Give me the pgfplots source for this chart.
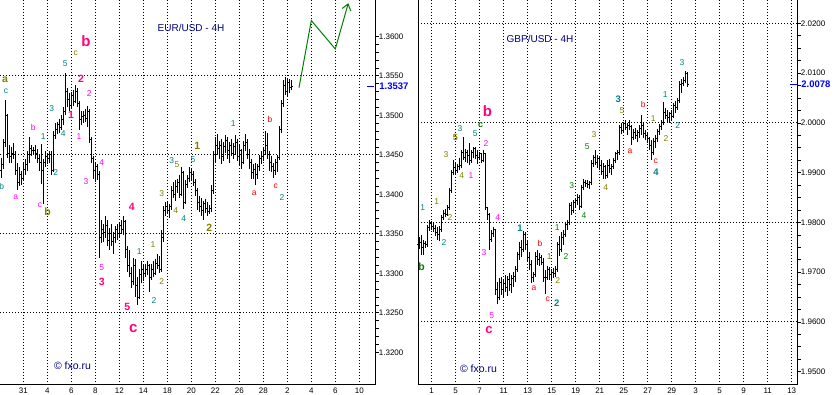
\documentclass[border=0pt]{standalone}
\usepackage{fontspec}
\setmainfont{Liberation Sans}
\usepackage{pgfplots}
\pgfplotsset{compat=1.18}
\usepackage{pgfplotstable}
\usetikzlibrary{arrows.meta}

\definecolor{wteal}{RGB}{0,128,128}
\definecolor{wolive}{RGB}{128,128,0}
\definecolor{wmag}{RGB}{255,0,255}
\definecolor{wpink}{RGB}{255,0,128}
\definecolor{wred}{RGB}{255,0,0}
\definecolor{wgreen}{RGB}{0,128,0}
\definecolor{wnavy}{RGB}{0,0,128}
\definecolor{wblue}{RGB}{0,0,255}

\pgfdeclareplotmark{ctick}{\pgfpathmoveto{\pgfpointorigin}\pgfpathlineto{\pgfpoint{1.6pt}{0pt}}\pgfusepathqstroke}
\pgfdeclareplotmark{otick}{\pgfpathmoveto{\pgfpointorigin}\pgfpathlineto{\pgfpoint{-1.6pt}{0pt}}\pgfusepathqstroke}

\pgfplotstableread{
x o h l c
1 1.3430 1.3446 1.3421 1.3438
3 1.3438 1.3470 1.3432 1.3465
5 1.3465 1.3519 1.3460 1.3500
7 1.3500 1.3502 1.3446 1.3452
9 1.3452 1.3462 1.3440 1.3448
11 1.3448 1.3460 1.3440 1.3452
13 1.3452 1.3465 1.3445 1.3450
15 1.3450 1.3455 1.3425 1.3430
17 1.3430 1.3440 1.3405 1.3415
19 1.3415 1.3435 1.3410 1.3425
21 1.3425 1.3430 1.3412 1.3420
23 1.3420 1.3440 1.3418 1.3432
25 1.3432 1.3445 1.3425 1.3438
27 1.3438 1.3455 1.3430 1.3450
29 1.3450 1.3472 1.3440 1.3458
31 1.3458 1.3462 1.3448 1.3455
33 1.3455 1.3460 1.3450 1.3456
35 1.3456 1.3462 1.3445 1.3452
37 1.3452 1.3458 1.3440 1.3445
39 1.3445 1.3450 1.3430 1.3440
41 1.3440 1.3464 1.3413 1.3430
43 1.3430 1.3445 1.3388 1.3440
45 1.3440 1.3455 1.3435 1.3448
47 1.3448 1.3452 1.3438 1.3445
49 1.3445 1.3455 1.3440 1.3450
51 1.3450 1.3455 1.3425 1.3430
53 1.3430 1.3480 1.3428 1.3475
55 1.3475 1.3490 1.3470 1.3482
57 1.3482 1.3492 1.3476 1.3488
59 1.3488 1.3495 1.3478 1.3485
61 1.3485 1.3500 1.3482 1.3495
63 1.3495 1.3510 1.3488 1.3505
65 1.3505 1.3553 1.3500 1.3530
67 1.3530 1.3535 1.3510 1.3520
69 1.3520 1.3528 1.3506 1.3512
71 1.3512 1.3530 1.3508 1.3525
73 1.3525 1.3532 1.3512 1.3518
75 1.3518 1.3538 1.3515 1.3530
77 1.3530 1.3535 1.3510 1.3515
79 1.3515 1.3518 1.3481 1.3495
81 1.3495 1.3505 1.3488 1.3498
83 1.3498 1.3505 1.3490 1.3500
85 1.3500 1.3508 1.3492 1.3496
87 1.3496 1.3512 1.3485 1.3505
89 1.3505 1.3508 1.3465 1.3470
91 1.3470 1.3472 1.3440 1.3445
93 1.3445 1.3448 1.3420 1.3430
95 1.3430 1.3440 1.3415 1.3435
97 1.3435 1.3438 1.3418 1.3425
99 1.3425 1.3430 1.3320 1.3345
101 1.3345 1.3368 1.3338 1.3355
103 1.3355 1.3362 1.3340 1.3352
105 1.3352 1.3372 1.3345 1.3360
107 1.3360 1.3368 1.3335 1.3342
109 1.3342 1.3358 1.3330 1.3350
111 1.3350 1.3362 1.3335 1.3340
113 1.3340 1.3352 1.3325 1.3345
115 1.3345 1.3360 1.3338 1.3355
117 1.3355 1.3362 1.3342 1.3350
119 1.3350 1.3365 1.3345 1.3360
121 1.3360 1.3368 1.3350 1.3355
123 1.3355 1.3372 1.3348 1.3365
125 1.3365 1.3368 1.3320 1.3330
127 1.3330 1.3335 1.3302 1.3310
129 1.3310 1.3330 1.3295 1.3300
131 1.3300 1.3308 1.3282 1.3290
133 1.3290 1.3320 1.3285 1.3310
135 1.3310 1.3318 1.3270 1.3285
137 1.3285 1.3295 1.3260 1.3270
139 1.3270 1.3305 1.3268 1.3298
141 1.3298 1.3315 1.3288 1.3305
143 1.3305 1.3310 1.3290 1.3300
145 1.3300 1.3312 1.3295 1.3305
147 1.3305 1.3315 1.3298 1.3310
149 1.3310 1.3312 1.3276 1.3295
151 1.3295 1.3312 1.3292 1.3305
153 1.3305 1.3315 1.3295 1.3300
155 1.3300 1.3318 1.3298 1.3312
157 1.3312 1.3325 1.3305 1.3310
159 1.3310 1.3322 1.3300 1.3305
161 1.3305 1.3355 1.3302 1.3345
163 1.3345 1.3385 1.3340 1.3380
165 1.3380 1.3390 1.3372 1.3385
167 1.3385 1.3392 1.3375 1.3380
169 1.3380 1.3388 1.3370 1.3384
171 1.3384 1.3410 1.3380 1.3405
173 1.3405 1.3415 1.3395 1.3400
175 1.3400 1.3418 1.3392 1.3410
177 1.3410 1.3420 1.3402 1.3415
179 1.3415 1.3425 1.3395 1.3400
181 1.3400 1.3435 1.3398 1.3428
183 1.3428 1.3430 1.3382 1.3390
185 1.3390 1.3418 1.3388 1.3412
187 1.3412 1.3425 1.3408 1.3420
189 1.3420 1.3435 1.3415 1.3428
191 1.3428 1.3432 1.3418 1.3425
193 1.3425 1.3430 1.3410 1.3415
195 1.3415 1.3420 1.3398 1.3405
197 1.3405 1.3408 1.3380 1.3390
199 1.3390 1.3398 1.3378 1.3385
201 1.3385 1.3395 1.3372 1.3380
203 1.3380 1.3392 1.3368 1.3388
205 1.3388 1.3394 1.3376 1.3382
207 1.3382 1.3390 1.3372 1.3378
209 1.3378 1.3386 1.3375 1.3382
211 1.3382 1.3412 1.3378 1.3405
213 1.3405 1.3455 1.3400 1.3450
215 1.3450 1.3472 1.3440 1.3462
217 1.3462 1.3476 1.3450 1.3458
219 1.3458 1.3468 1.3445 1.3462
221 1.3462 1.3470 1.3438 1.3448
223 1.3448 1.3466 1.3442 1.3460
225 1.3460 1.3475 1.3452 1.3468
227 1.3468 1.3472 1.3445 1.3455
229 1.3455 1.3466 1.3440 1.3462
231 1.3462 1.3470 1.3448 1.3452
233 1.3452 1.3465 1.3445 1.3460
235 1.3460 1.3475 1.3450 1.3466
237 1.3466 1.3470 1.3442 1.3448
239 1.3448 1.3462 1.3436 1.3455
241 1.3455 1.3458 1.3432 1.3440
243 1.3440 1.3468 1.3438 1.3462
245 1.3462 1.3476 1.3455 1.3465
247 1.3465 1.3470 1.3445 1.3450
249 1.3450 1.3458 1.3432 1.3440
251 1.3440 1.3445 1.3420 1.3428
253 1.3428 1.3438 1.3420 1.3432
255 1.3432 1.3440 1.3412 1.3425
257 1.3425 1.3438 1.3420 1.3435
259 1.3435 1.3450 1.3430 1.3445
261 1.3445 1.3455 1.3438 1.3448
263 1.3448 1.3460 1.3442 1.3455
265 1.3455 1.3480 1.3450 1.3462
267 1.3462 1.3478 1.3445 1.3450
269 1.3450 1.3455 1.3430 1.3440
271 1.3440 1.3448 1.3428 1.3435
273 1.3435 1.3440 1.3421 1.3430
275 1.3430 1.3445 1.3425 1.3440
277 1.3440 1.3450 1.3428 1.3446
279 1.3446 1.3486 1.3444 1.3482
281 1.3482 1.3520 1.3478 1.3515
283 1.3515 1.3545 1.3510 1.3538
285 1.3538 1.3548 1.3526 1.3530
287 1.3530 1.3547 1.3525 1.3542
289 1.3542 1.3546 1.3528 1.3535
291 1.3535 1.3545 1.3532 1.3537
}\eurdata

\pgfplotstableread{
x o h l c
419 1.9755 1.9770 1.9746 1.9760
421 1.9760 1.9775 1.9735 1.9750
423 1.9750 1.9765 1.9735 1.9758
425 1.9758 1.9762 1.9748 1.9755
427 1.9755 1.9795 1.9750 1.9790
429 1.9790 1.9805 1.9782 1.9798
431 1.9798 1.9802 1.9785 1.9792
433 1.9792 1.9800 1.9780 1.9788
435 1.9788 1.9795 1.9772 1.9780
437 1.9780 1.9790 1.9765 1.9775
439 1.9775 1.9792 1.9762 1.9785
441 1.9785 1.9815 1.9780 1.9810
443 1.9810 1.9825 1.9805 1.9818
445 1.9818 1.9828 1.9810 1.9815
447 1.9815 1.9835 1.9812 1.9830
449 1.9830 1.9870 1.9825 1.9865
451 1.9865 1.9905 1.9860 1.9900
453 1.9900 1.9925 1.9895 1.9910
455 1.9910 1.9920 1.9898 1.9905
457 1.9905 1.9918 1.9900 1.9912
459 1.9912 1.9930 1.9905 1.9915
461 1.9915 1.9945 1.9910 1.9940
463 1.9940 1.9972 1.9925 1.9930
465 1.9930 1.9948 1.9922 1.9940
467 1.9940 1.9945 1.9920 1.9935
469 1.9935 1.9960 1.9915 1.9925
471 1.9925 1.9945 1.9920 1.9940
473 1.9940 1.9952 1.9930 1.9948
475 1.9948 1.9952 1.9928 1.9935
477 1.9935 1.9945 1.9918 1.9930
479 1.9930 1.9942 1.9925 1.9938
481 1.9938 1.9940 1.9920 1.9925
483 1.9925 1.9945 1.9922 1.9938
485 1.9938 1.9940 1.9825 1.9830
487 1.9830 1.9832 1.9805 1.9815
489 1.9815 1.9820 1.9745 1.9765
491 1.9765 1.9785 1.9760 1.9778
493 1.9778 1.9790 1.9770 1.9785
495 1.9785 1.9787 1.9655 1.9665
497 1.9665 1.9680 1.9636 1.9650
499 1.9650 1.9688 1.9645 1.9680
501 1.9680 1.9690 1.9655 1.9665
503 1.9665 1.9685 1.9650 1.9678
505 1.9678 1.9695 1.9660 1.9670
507 1.9670 1.9692 1.9652 1.9685
509 1.9685 1.9698 1.9662 1.9675
511 1.9675 1.9695 1.9658 1.9688
513 1.9688 1.9700 1.9670 1.9692
515 1.9692 1.9712 1.9680 1.9705
517 1.9705 1.9740 1.9700 1.9735
519 1.9735 1.9760 1.9725 1.9750
521 1.9750 1.9765 1.9730 1.9745
523 1.9745 1.9782 1.9740 1.9775
525 1.9775 1.9780 1.9745 1.9755
527 1.9755 1.9765 1.9720 1.9730
529 1.9730 1.9740 1.9705 1.9715
531 1.9715 1.9725 1.9678 1.9690
533 1.9690 1.9700 1.9680 1.9695
535 1.9695 1.9740 1.9690 1.9732
537 1.9732 1.9745 1.9715 1.9725
539 1.9725 1.9738 1.9712 1.9730
541 1.9730 1.9735 1.9715 1.9720
543 1.9720 1.9728 1.9680 1.9690
545 1.9690 1.9705 1.9656 1.9690
547 1.9690 1.9712 1.9685 1.9705
549 1.9705 1.9710 1.9685 1.9695
551 1.9695 1.9706 1.9683 1.9700
553 1.9700 1.9708 1.9688 1.9698
555 1.9698 1.9712 1.9690 1.9705
557 1.9705 1.9760 1.9700 1.9755
559 1.9755 1.9772 1.9732 1.9745
561 1.9745 1.9780 1.9740 1.9770
563 1.9770 1.9785 1.9755 1.9775
565 1.9775 1.9798 1.9770 1.9795
567 1.9795 1.9805 1.9785 1.9800
569 1.9800 1.9840 1.9795 1.9835
571 1.9835 1.9842 1.9815 1.9825
573 1.9825 1.9845 1.9820 1.9840
575 1.9840 1.9850 1.9830 1.9845
577 1.9845 1.9858 1.9835 1.9850
579 1.9850 1.9855 1.9825 1.9832
581 1.9832 1.9875 1.9830 1.9870
583 1.9870 1.9888 1.9865 1.9880
585 1.9880 1.9886 1.9872 1.9878
587 1.9878 1.9885 1.9870 1.9876
589 1.9876 1.9884 1.9868 1.9880
591 1.9880 1.9925 1.9875 1.9918
593 1.9918 1.9935 1.9912 1.9930
595 1.9930 1.9946 1.9915 1.9920
597 1.9920 1.9935 1.9910 1.9928
599 1.9928 1.9932 1.9905 1.9915
601 1.9915 1.9925 1.9895 1.9902
603 1.9902 1.9920 1.9888 1.9912
605 1.9912 1.9915 1.9888 1.9895
607 1.9895 1.9925 1.9890 1.9915
609 1.9915 1.9928 1.9900 1.9908
611 1.9908 1.9918 1.9895 1.9912
613 1.9912 1.9930 1.9908 1.9925
615 1.9925 1.9942 1.9920 1.9938
617 1.9938 1.9945 1.9925 1.9940
619 1.9940 1.9995 1.9935 1.9990
621 1.9990 2.0000 1.9978 1.9985
623 1.9985 2.0002 1.9980 1.9998
625 1.9998 2.0005 1.9985 1.9990
627 1.9990 2.0000 1.9975 1.9995
629 1.9995 2.0006 1.9985 1.9992
631 1.9992 1.9995 1.9955 1.9970
633 1.9970 1.9988 1.9965 1.9980
635 1.9980 1.9990 1.9968 1.9975
637 1.9975 1.9985 1.9962 1.9980
639 1.9980 1.9995 1.9970 1.9988
641 1.9988 2.0015 1.9975 1.9995
643 1.9995 2.0000 1.9970 1.9978
645 1.9978 1.9985 1.9965 1.9975
647 1.9975 1.9982 1.9960 1.9968
649 1.9968 1.9972 1.9945 1.9955
651 1.9955 1.9965 1.9926 1.9940
653 1.9940 1.9970 1.9935 1.9962
655 1.9962 1.9975 1.9950 1.9968
657 1.9968 1.9988 1.9962 1.9982
659 1.9982 1.9998 1.9975 1.9992
661 1.9992 2.0005 1.9985 2.0000
663 2.0000 2.0042 1.9995 2.0020
665 2.0020 2.0030 2.0008 2.0015
667 2.0015 2.0025 2.0002 2.0010
669 2.0010 2.0022 2.0000 2.0018
671 2.0018 2.0025 2.0004 2.0012
673 2.0012 2.0040 2.0010 2.0035
675 2.0035 2.0045 2.0020 2.0030
677 2.0030 2.0050 2.0025 2.0045
679 2.0045 2.0085 2.0040 2.0078
681 2.0078 2.0088 2.0060 2.0080
683 2.0080 2.0092 2.0075 2.0085
685 2.0085 2.0105 2.0080 2.0100
687 2.0100 2.0102 2.0072 2.0078
}\gbpdata

\pgfplotsset{
  chartbase/.style={
    scale only axis, clip=false,
    axis x line*=bottom, axis y line*=right,
    axis line style={black, line width=1pt},
    tick align=outside,
    major tick length=3pt, minor tick length=3pt,
    ytick style={black, line width=0.8pt},
    xtick style={draw=none},
    xmajorgrids,
    major grid style={black, line width=1pt, dash pattern=on 1pt off 2pt},
    ticklabel style={font=\fontsize{8}{9}\selectfont},
    xticklabel style={inner sep=0pt, anchor=north},
    yticklabel style={inner sep=0pt, anchor=west},
    extra y tick labels={},
    extra y tick style={grid=major, tick style={draw=none}},
    /pgf/number format/.cd, fixed, fixed zerofill, precision=4, assume math mode=true, 1000 sep={},
  },
  ohlc/.style={black, line width=1pt, only marks, mark=ctick, mark options={line width=1pt},
    error bars/.cd, y dir=both, y explicit, error mark=none, error bar style={line width=1pt, black}},
  opent/.style={black, line width=1pt, only marks, mark=otick, mark options={line width=1pt}},
}

\tikzset{
  s/.style={inner sep=0pt, font=\fontsize{8.5}{9}\selectfont},
  bb/.style={inner sep=0pt, font=\fontsize{10.5}{11}\selectfont\bfseries},
  big/.style={inner sep=0pt, font=\fontsize{15}{16}\selectfont\bfseries},
}

\begin{document}
\begin{tikzpicture}
\useasboundingbox (0pt,0pt) rectangle (835pt,-394pt);

% ---------------- EUR/USD ----------------
\begin{axis}[chartbase,
  at={(0pt,0pt)}, anchor=north west,
  width=375.7pt, height=384.7pt,
  xmin=0, xmax=375.7, ymin=1.3159, ymax=1.3646,
  xtick={23.3,47.3,71.3,95.3,119.3,143.3,167.3,191.3,215.3,239.3,263.3,287.3,311.3,335.3,359.3},
  xticklabels={31,4,6,8,12,14,18,20,22,26,28,2,4,6,10},
  ytick={1.320,1.325,1.330,1.335,1.340,1.345,1.350,1.355,1.360},
  minor y tick num=4,
  extra y ticks={1.325,1.335,1.345,1.355},
]
\addplot[ohlc] table[x=x, y=c, y error plus expr={\thisrow{h}-\thisrow{c}}, y error minus expr={\thisrow{c}-\thisrow{l}}] {\eurdata};
\addplot[opent] table[x=x, y=o] {\eurdata};
\addplot[wgreen, line width=1pt, -{Straight Barb[length=6pt,width=9pt]}] coordinates {(299,1.3535) (311.3,1.3620) (335.3,1.3584) (348.3,1.3642)};
\addplot[wblue, line width=1pt] coordinates {(367,1.3537) (374,1.3537)};
\node[anchor=west, inner sep=0pt, text=wblue, font=\fontsize{9.5}{10}\selectfont\bfseries, xshift=3.5pt] at (axis cs:375.7,1.3537) {1.3537};

\node[text=wnavy, inner sep=0pt, font=\fontsize{10}{11}\selectfont] at (axis cs:191,1.3611) {EUR/USD - 4H};
\node[text=wnavy, inner sep=0pt, font=\fontsize{10.5}{11}\selectfont] at (axis cs:72.5,1.3183) {\textcopyright\ fxo.ru};

% wave labels
\node[bb, text=wolive] at (axis cs:5,1.3545) {a};
\node[s, text=wteal] at (axis cs:6,1.3531) {c};
\node[s, text=wmag] at (axis cs:33.3,1.3485) {b};
\node[s, text=wteal] at (axis cs:43.3,1.3473) {1};
\node[s, text=wteal] at (axis cs:51.7,1.3508) {3};
\node[s, text=wteal] at (axis cs:63.3,1.3477) {4};
\node[s, text=wteal] at (axis cs:65.3,1.3566) {5};
\node[s, text=wolive] at (axis cs:75.7,1.3578) {c};
\node[big, text=wpink] at (axis cs:86,1.3594) {b};
\node[bb, text=wpink] at (axis cs:81,1.3546) {2};
\node[bb, text=wpink] at (axis cs:71,1.3500) {1};
\node[s, text=wmag] at (axis cs:79,1.3473) {1};
\node[s, text=wmag] at (axis cs:89.3,1.3527) {2};
\node[s, text=wteal] at (axis cs:55.7,1.3428) {2};
\node[s, text=wmag] at (axis cs:86,1.3416) {3};
\node[s, text=wmag] at (axis cs:101.7,1.3440) {4};
\node[s, text=wteal] at (axis cs:1.7,1.3410) {b};
\node[s, text=wmag] at (axis cs:15.7,1.3396) {a};
\node[s, text=wmag] at (axis cs:40,1.3386) {c};
\node[bb, text=wolive] at (axis cs:47.7,1.3378) {b};
\node[s, text=wolive] at (axis cs:161.7,1.3401) {3};
\node[s, text=wteal] at (axis cs:171.7,1.3443) {3};
\node[s, text=wolive] at (axis cs:177,1.3438) {5};
\node[s, text=wteal] at (axis cs:193,1.3444) {5};
\node[bb, text=wolive] at (axis cs:197.3,1.3461) {1};
\node[s, text=wteal] at (axis cs:233.3,1.3490) {1};
\node[s, text=wred] at (axis cs:270,1.3495) {b};
\node[s, text=wred] at (axis cs:254.3,1.3401) {a};
\node[s, text=wred] at (axis cs:275.7,1.3410) {c};
\node[s, text=wteal] at (axis cs:282,1.3396) {2};
\node[bb, text=wpink] at (axis cs:131.7,1.3384) {4};
\node[s, text=wmag] at (axis cs:101.7,1.3307) {5};
\node[bb, text=wpink] at (axis cs:101.7,1.3289) {3};
\node[bb, text=wpink] at (axis cs:127.3,1.3257) {5};
\node[big, text=wpink] at (axis cs:133.3,1.3230) {c};
\node[s, text=wteal] at (axis cs:139.3,1.3328) {1};
\node[s, text=wteal] at (axis cs:154,1.3266) {2};
\node[s, text=wolive] at (axis cs:153,1.3337) {1};
\node[s, text=wolive] at (axis cs:161.7,1.3290) {2};
\node[s, text=wolive] at (axis cs:175.7,1.3380) {4};
\node[s, text=wteal] at (axis cs:183.7,1.3369) {4};
\node[bb, text=wolive] at (axis cs:209.3,1.3358) {2};
\end{axis}

% ---------------- GBP/USD ----------------
\begin{axis}[chartbase,
  at={(418pt,0pt)}, anchor=north west,
  width=379.7pt, height=384.7pt,
  xmin=418, xmax=797.7, ymin=1.9474, ymax=2.0247,
  xtick={431.7,455.7,479.7,503.7,527.7,551.7,575.7,599.7,623.7,647.7,671.7,695.7,719.7,743.7,767.7,791.7},
  xticklabels={1,5,7,11,13,15,19,21,25,27,29,3,5,9,11,13},
  ytick={1.95,1.96,1.97,1.98,1.99,2.00,2.01,2.02},
  minor y tick num=3,
  extra y ticks={1.96,1.98,2.00,2.02},
]
\draw[black, line width=1pt] (rel axis cs:0,0) -- (rel axis cs:0,1);
\addplot[ohlc] table[x=x, y=c, y error plus expr={\thisrow{h}-\thisrow{c}}, y error minus expr={\thisrow{c}-\thisrow{l}}] {\gbpdata};
\addplot[opent] table[x=x, y=o] {\gbpdata};
\addplot[wblue, line width=1pt] coordinates {(790,2.0078) (797,2.0078)};
\node[anchor=west, inner sep=0pt, text=wblue, font=\fontsize{9.5}{10}\selectfont\bfseries, xshift=3.5pt] at (axis cs:797.7,2.0078) {2.0078};

\node[text=wnavy, inner sep=0pt, font=\fontsize{10}{11}\selectfont] at (axis cs:540,2.0168) {GBP/USD - 4H};
\node[text=wnavy, inner sep=0pt, font=\fontsize{10.5}{11}\selectfont] at (axis cs:478.5,1.9506) {\textcopyright\ fxo.ru};

\node[s, text=wolive] at (axis cs:446,1.9936) {3};
\node[bb, text=wolive, font=\fontsize{9}{10}\selectfont\bfseries] at (axis cs:455.3,1.9970) {5};
\node[s, text=wteal] at (axis cs:460,1.9989) {3};
\node[s, text=wolive] at (axis cs:461.7,1.9894) {4};
\node[s, text=wmag] at (axis cs:471,1.9894) {1};
\node[s, text=wteal] at (axis cs:475.3,1.9978) {5};
\node[bb, text=wgreen, font=\fontsize{9}{10}\selectfont\bfseries] at (axis cs:480.5,1.9995) {c};
\node[big, text=wpink] at (axis cs:487.5,2.0023) {b};
\node[s, text=wmag] at (axis cs:486,1.9958) {2};
\node[s, text=wgreen] at (axis cs:571.7,1.9874) {3};
\node[s, text=wgreen] at (axis cs:587.3,1.9952) {5};
\node[s, text=wolive] at (axis cs:594,1.9976) {3};
\node[s, text=wolive] at (axis cs:605.7,1.9870) {4};
\node[bb, text=wteal, font=\fontsize{9.5}{10}\selectfont\bfseries] at (axis cs:618.3,2.0047) {3};
\node[s, text=wolive] at (axis cs:622,2.0025) {5};
\node[s, text=wred] at (axis cs:630,1.9944) {a};
\node[s, text=wred] at (axis cs:643.3,2.0037) {b};
\node[s, text=wolive] at (axis cs:653.3,2.0009) {1};
\node[s, text=wred] at (axis cs:655.7,1.9922) {c};
\node[bb, text=wteal, font=\fontsize{9.5}{10}\selectfont\bfseries] at (axis cs:656,1.9900) {4};
\node[s, text=wteal] at (axis cs:665.3,2.0057) {1};
\node[s, text=wolive] at (axis cs:666,1.9968) {2};
\node[s, text=wteal] at (axis cs:677.7,1.9995) {2};
\node[s, text=wteal] at (axis cs:682,2.0121) {3};
\node[s, text=wteal] at (axis cs:422.7,1.9830) {1};
\node[s, text=wolive] at (axis cs:436.7,1.9842) {1};
\node[s, text=wolive] at (axis cs:450,1.9809) {2};
\node[s, text=wteal] at (axis cs:444,1.9759) {2};
\node[bb, text=wgreen] at (axis cs:421.7,1.9711) {b};
\node[s, text=wmag] at (axis cs:484,1.9739) {3};
\node[s, text=wmag] at (axis cs:497.7,1.9809) {4};
\node[s, text=wmag] at (axis cs:491.7,1.9612) {5};
\node[big, text=wpink, font=\fontsize{13}{14}\selectfont\bfseries] at (axis cs:489,1.9584) {c};
\node[bb, text=wteal, font=\fontsize{9.5}{10}\selectfont\bfseries] at (axis cs:520,1.9789) {1};
\node[s, text=wred] at (axis cs:540,1.9757) {b};
\node[s, text=wred] at (axis cs:534,1.9667) {a};
\node[s, text=wred] at (axis cs:547.7,1.9646) {c};
\node[bb, text=wteal, font=\fontsize{9.5}{10}\selectfont\bfseries] at (axis cs:556.7,1.9638) {2};
\node[s, text=wolive] at (axis cs:549.3,1.9731) {1};
\node[s, text=wolive] at (axis cs:557.7,1.9683) {2};
\node[s, text=wgreen] at (axis cs:557.3,1.9789) {1};
\node[s, text=wgreen] at (axis cs:566,1.9731) {2};
\node[s, text=wgreen] at (axis cs:584,1.9813) {4};
\end{axis}
\end{tikzpicture}
\end{document}
